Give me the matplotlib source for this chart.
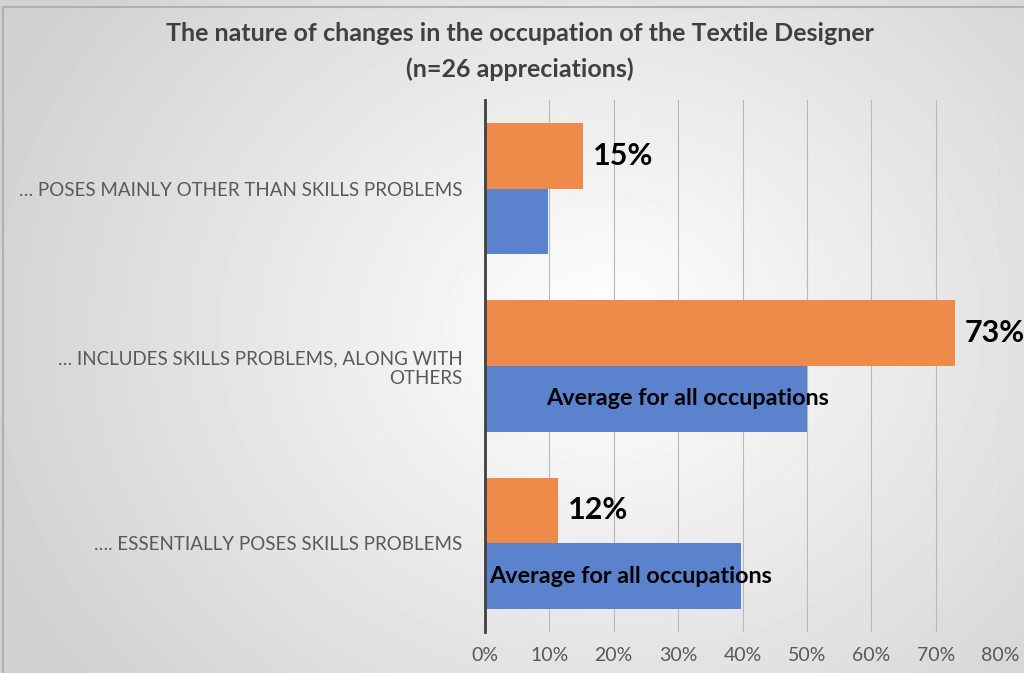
import numpy as np
import matplotlib.pyplot as plt

# data
categories = ["… POSES MAINLY OTHER THAN SKILLS PROBLEMS",
              "… INCLUDES SKILLS PROBLEMS, ALONG WITH\nOTHERS",
              "…. ESSENTIALLY POSES SKILLS PROBLEMS"]
designer = [0.152, 0.73, 0.114]
designer_labels = ["15%", "73%", "12%"]
average = [0.098, 0.50, 0.397]
avg_text = ["", "Average for all occupations", "Average for all occupations"]
avg_text_x = [0.0, 0.095, 0.006]
ticks = np.arange(0, 0.81, 0.1)

plt.rcParams['font.family'] = ['Lato', 'DejaVu Sans']

fig = plt.figure(figsize=(10.24, 6.73), dpi=100)

# radial grey background
bg = fig.add_axes([0, 0, 1, 1])
yy, xx = np.mgrid[0:673, 0:1024]
r = np.sqrt(((xx - 600) / 650.0) ** 2 + ((yy - 330) / 560.0) ** 2)
shade = np.clip(1.0 - 0.18 * r, 0.82, 1.0)
bg.imshow(shade, cmap='gray', vmin=0, vmax=1, aspect='auto', extent=[0, 1, 0, 1])
bg.plot([0.003, 0.003, 1], [0.0, 0.99, 0.99], color='#b0b0b0', lw=1.5)
bg.set_xlim(0, 1); bg.set_ylim(0, 1)
bg.axis('off')

ax = fig.add_axes([0.4736, 0.061, 0.5030, 0.7904])
ax.patch.set_alpha(0)
y = np.arange(len(categories))
h = 0.37
ax.barh(y - h / 2, designer, height=h, color='#EE8B4B', zorder=3)
ax.barh(y + h / 2, average, height=h, color='#5B83CD', zorder=3)

for i in range(len(categories)):
    ax.annotate(designer_labels[i], xy=(designer[i], y[i] - h / 2), xytext=(7, 0),
                textcoords='offset points', va='center', ha='left',
                fontsize=22, fontweight='bold', color='black', zorder=4)
    if avg_text[i]:
        ax.text(avg_text_x[i], y[i] + h / 2, avg_text[i], va='center', ha='left',
                fontsize=16.8, fontweight='bold', color='black', zorder=4)

ax.set_ylim(2.5, -0.5)
ax.set_xlim(0, 0.8)
ax.set_yticks(y)
ax.set_yticklabels(categories, fontsize=13.5, color='#595959')
ax.set_xticks(ticks)
ax.set_xticklabels([f"{int(round(t * 100))}%" for t in ticks], fontsize=14, color='#595959')
ax.tick_params(axis='both', length=0)
ax.tick_params(axis='y', pad=16)
ax.tick_params(axis='x', pad=11)
ax.grid(axis='x', color='#b8b8b8', lw=0.8, zorder=0)
for s in ['top', 'right', 'bottom']:
    ax.spines[s].set_visible(False)
ax.spines['left'].set_color('#404040')
ax.spines['left'].set_linewidth(2)
ax.spines['left'].set_zorder(5)

fig.text(0.508, 0.950, "The nature of changes in the occupation of the Textile Designer",
         ha='center', va='center', fontsize=18, fontweight='bold', color='#404040')
fig.text(0.508, 0.897, "(n=26 appreciations)",
         ha='center', va='center', fontsize=18, fontweight='bold', color='#404040')

fig.savefig("out.png", dpi=100)
